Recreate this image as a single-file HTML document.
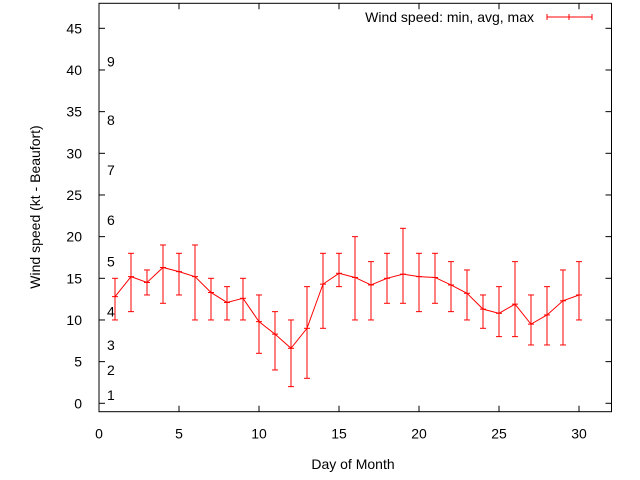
<!DOCTYPE html>
<html><head><meta charset="utf-8"><style>
body{margin:0;background:#fff}
svg{display:block;font-family:"Liberation Sans",sans-serif}
</style></head><body>
<svg id="chart" width="640" height="480" viewBox="0 0 640 480">
<rect x="0" y="0" width="640" height="480" fill="#fff"/>
<g id="axes"></g>
<g id="beaufort" font-size="14" fill="#000"></g>
<g id="series"></g>
<text transform="translate(40,207) rotate(-90)" text-anchor="middle" font-size="14">Wind speed (kt - Beaufort)</text>
<text x="353" y="469" text-anchor="middle" font-size="14">Day of Month</text>
<g>
<text x="534" y="22" text-anchor="end" font-size="14">Wind speed: min, avg, max</text>
<line x1="547" y1="17" x2="592" y2="17" stroke="#f00" stroke-width="1"/>
<line x1="547" y1="14" x2="547" y2="20" stroke="#f00"/>
<line x1="592" y1="14" x2="592" y2="20" stroke="#f00"/>
<line x1="569" y1="14" x2="569" y2="20" stroke="#f00"/>
</g>
</svg>
<script>
const days=[1,2,3,4,5,6,7,8,9,10,11,12,13,14,15,16,17,18,19,20,21,22,23,24,25,26,27,28,29,30];
const avgSpeed=[12.8,15.2,14.5,16.3,15.8,15.2,13.3,12.1,12.6,9.8,8.3,6.6,9,14.3,15.6,15.1,14.2,15,15.5,15.2,15.1,14.2,13.2,11.3,10.8,11.9,9.5,10.6,12.3,13];
const minSpeed=[10,11,13,12,13,10,10,10,10,6,4,2,3,9,14,10,10,12,12,11,12,11,10,9,8,8,7,7,7,10];
const maxSpeed=[15,18,16,19,18,19,15,14,15,13,11,10,14,18,18,20,17,18,21,18,18,17,16,13,14,17,13,14,16,17];
const xTicks=[0,5,10,15,20,25,30];
const yTicks=[0,5,10,15,20,25,30,35,40,45];
const beaufortLabels=["1","2","3","4","5","6","7","8","9"];
const beaufortKnots=[1,4,7,11,17,22,28,34,41];
const X0=99,XS=16,Y0=403.3,YS=8.333;
const L=99,R=611.5,T=3.3,B=411.7;
function xs(v){return X0+v*XS}
function ys(v){return Y0-v*YS}
const NS="http://www.w3.org/2000/svg";
function mk(tag,attrs,parent){const e=document.createElementNS(NS,tag);for(const k in attrs)e.setAttribute(k,attrs[k]);parent.appendChild(e);return e}
const axes=document.getElementById('axes');
const border=mk('rect',{x:L,y:T,width:R-L,height:B-T,fill:'none',stroke:'#000','stroke-width':1},axes);


xTicks.forEach(v=>{
 const x=xs(v);
 const t1=mk('line',{x1:x,y1:B,x2:x,y2:B-6,stroke:'#000'},axes);
 
 
 mk('line',{x1:x,y1:T,x2:x,y2:T+6,stroke:'#000'},axes);
 const t=mk('text',{x:x,y:B+27,'text-anchor':'middle','font-size':14},axes);
 t.textContent=v;
 
 
});
yTicks.forEach(v=>{
 const y=ys(v);
 const t1=mk('line',{x1:L,y1:y,x2:L+6,y2:y,stroke:'#000'},axes);
 
 
 mk('line',{x1:R,y1:y,x2:R-6,y2:y,stroke:'#000'},axes);
 const t=mk('text',{x:L-17,y:y+5,'text-anchor':'end','font-size':14},axes);
 t.textContent=v;
 
 
});
const bg=document.getElementById('beaufort');
beaufortLabels.forEach((lab,i)=>{
 const t=mk('text',{x:107,y:ys(beaufortKnots[i])+5},bg);
 t.textContent=lab;
 
 
});
const sg=document.getElementById('series');
const pl=mk('polyline',{points:days.map((d,i)=>xs(d)+','+ys(avgSpeed[i])).join(' '),fill:'none',stroke:'#f00','stroke-width':1},sg);


days.forEach((d,i)=>{
 const x=xs(d),g=mk('g',{stroke:'#f00','stroke-width':1},sg);
 
 
 mk('line',{x1:x,y1:ys(minSpeed[i]),x2:x,y2:ys(maxSpeed[i])},g);
 mk('line',{x1:x-3,y1:ys(minSpeed[i]),x2:x+3,y2:ys(minSpeed[i])},g);
 mk('line',{x1:x-3,y1:ys(maxSpeed[i]),x2:x+3,y2:ys(maxSpeed[i])},g);
 mk('line',{x1:x-3,y1:ys(avgSpeed[i]),x2:x+3,y2:ys(avgSpeed[i])},g);
});
</script>
</body></html>
